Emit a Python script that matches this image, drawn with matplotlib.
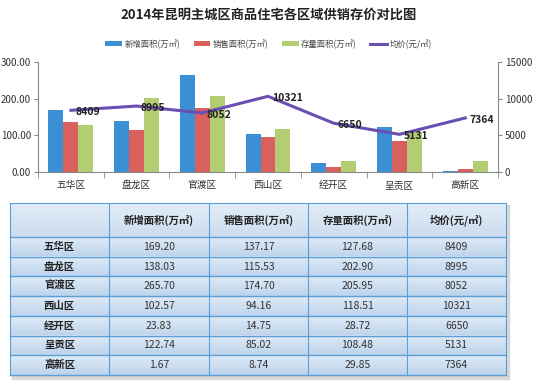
import matplotlib
matplotlib.use("Agg")
import matplotlib.pyplot as plt
import numpy as np
from matplotlib.patches import Rectangle
from matplotlib.colors import LinearSegmentedColormap
from matplotlib.ticker import FormatStrFormatter, MultipleLocator

plt.rcParams['font.family'] = ['Noto Sans CJK SC', 'DejaVu Sans']

title = "2014年昆明主城区商品住宅各区域供销存价对比图"
districts = ["五华区", "盘龙区", "官渡区", "西山区", "经开区", "呈贡区", "高新区"]
new_area = [169.20, 138.03, 265.70, 102.57, 23.83, 122.74, 1.67]
sold_area = [137.17, 115.53, 174.70, 94.16, 14.75, 85.02, 8.74]
stock_area = [127.68, 202.90, 205.95, 118.51, 28.72, 108.48, 29.85]
avg_price = [8409, 8995, 8052, 10321, 6650, 5131, 7364]
series_names = ["新增面积(万㎡)", "销售面积(万㎡)", "存量面积(万㎡)", "均价(元/㎡)"]

new_txt = ["169.20", "138.03", "265.70", "102.57", "23.83", "122.74", "1.67"]
sold_txt = ["137.17", "115.53", "174.70", "94.16", "14.75", "85.02", "8.74"]
stock_txt = ["127.68", "202.90", "205.95", "118.51", "28.72", "108.48", "29.85"]
price_txt = ["8409", "8995", "8052", "10321", "6650", "5131", "7364"]

W, H = 537, 383
fig = plt.figure(figsize=(W / 100, H / 100), dpi=100)
fig.patch.set_facecolor("white")

c_blue = "#3b8fd4"
c_red = "#d9605c"
c_green = "#b3cd72"
c_line = "#6a4fb3"

fig.text(0.5, 1 - 15 / H, title, ha="center", va="center", fontsize=9.5,
         fontweight="bold", color="#222222")

ax = fig.add_axes([38 / W, 1 - 172 / H, (498 - 38) / W, (172 - 62) / H])
x = np.arange(len(districts))
bw = 0.228
b1 = ax.bar(x - bw, new_area, bw, color=c_blue, label=series_names[0])
b2 = ax.bar(x, sold_area, bw, color=c_red, label=series_names[1])
b3 = ax.bar(x + bw, stock_area, bw, color=c_green, label=series_names[2])
ax.set_xlim(-0.5, len(districts) - 0.5)
ax.set_ylim(0, 300)
ax.yaxis.set_major_locator(MultipleLocator(100))
ax.yaxis.set_major_formatter(FormatStrFormatter("%.2f"))
ax.set_xticks(x)
ax.set_xticklabels(districts, fontsize=7, color="#333333")
ax.tick_params(axis="x", length=0, pad=6)
ax.set_xticks(np.arange(-0.5, len(districts) + 0.5, 1), minor=True)
ax.tick_params(axis="x", which="minor", length=4, color="#888888", direction="out")
ax.tick_params(axis="y", labelsize=7, length=3, color="#888888", labelcolor="#333333", pad=2)
for s in ["top", "right"]:
    ax.spines[s].set_visible(False)
ax.spines["left"].set_color("#888888")
ax.spines["bottom"].set_color("#888888")

ax2 = ax.twinx()
ln, = ax2.plot(x, avg_price, color=c_line, lw=2.2, label=series_names[3])
ax2.set_ylim(0, 15000)
ax2.yaxis.set_major_locator(MultipleLocator(5000))
ax2.tick_params(axis="y", labelsize=7, length=3, color="#888888", labelcolor="#333333", pad=2)
for s in ["top", "left", "bottom"]:
    ax2.spines[s].set_visible(False)
ax2.spines["right"].set_color("#888888")
for xi, v, t in zip(x, avg_price, price_txt):
    ax2.annotate(t, (xi, v), xytext=(3, -1.5), textcoords="offset points",
                 ha="left", va="center", fontsize=7.5, fontweight="bold", color="#222222")

fig.legend(handles=[b1, b2, b3, ln], labels=series_names, loc="center",
           bbox_to_anchor=(0.5, 1 - 44 / H), ncol=4, frameon=False, fontsize=6,
           handlelength=2.0, handleheight=0.6, columnspacing=1.6, handletextpad=0.3,
           labelcolor="#444444")

# table
tax = fig.add_axes([0, 0, 1, 1])
tax.set_xlim(0, W)
tax.set_ylim(H, 0)
tax.axis("off")
col_x = [10, 109, 209, 308, 407, 506]
header_top, header_bot = 203, 237
row_h = (375 - 237) / 7
border = "#5b9fd6"
tax.add_patch(Rectangle((12, header_top + 2), 497, 375 - header_top + 1.5,
                        color="#d8d8d8", zorder=0))
grad = LinearSegmentedColormap.from_list("g", ["#dfeaf6", "#bdd4ed"])
gimg = np.linspace(0, 1, 50).reshape(-1, 1)
tax.imshow(gimg, cmap=LinearSegmentedColormap.from_list("h", ["#e3edf8", "#ccdcef"]),
           extent=(10, 506, header_bot, header_top), aspect="auto", zorder=1)
for i in range(7):
    y0 = header_bot + i * row_h
    tax.imshow(gimg, cmap=grad, extent=(10, 506, y0 + row_h, y0), aspect="auto", zorder=1)
tax.set_xlim(0, W)
tax.set_ylim(H, 0)
for cx in col_x:
    tax.plot([cx, cx], [header_top, 375], color=border, lw=0.8, zorder=2)
tax.plot([10, 506], [header_top, header_top], color=border, lw=0.8, zorder=2)
tax.plot([10, 506], [header_bot, header_bot], color=border, lw=1.0, zorder=2)
for i in range(1, 8):
    y0 = header_bot + i * row_h
    tax.plot([10, 506], [y0, y0], color=border, lw=1.0, zorder=2)

headers = [""] + series_names
for j, h in enumerate(headers):
    cx = (col_x[j] + col_x[j + 1]) / 2
    tax.text(cx, (header_top + header_bot) / 2, h, ha="center", va="center",
             fontsize=7.5, fontweight="bold", color="#222222", zorder=3)
cols = [new_txt, sold_txt, stock_txt, price_txt]
for i, d in enumerate(districts):
    cy = header_bot + (i + 0.5) * row_h
    tax.text((col_x[0] + col_x[1]) / 2, cy, d, ha="center", va="center",
             fontsize=7.5, fontweight="bold", color="#222222", zorder=3)
    for j, col in enumerate(cols):
        cx = (col_x[j + 1] + col_x[j + 2]) / 2
        tax.text(cx, cy, col[i], ha="center", va="center", fontsize=7.5,
                 color="#333333", zorder=3)

fig.savefig("out.png", dpi=100, facecolor="white")
